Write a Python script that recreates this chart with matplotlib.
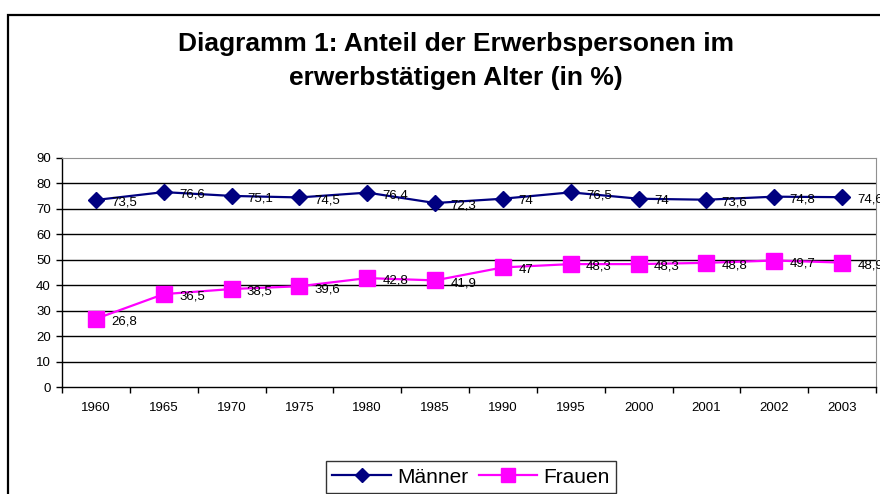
import matplotlib
matplotlib.use("Agg")
import matplotlib.pyplot as plt
from matplotlib.patches import Rectangle

plt.rcParams["font.family"] = ["Liberation Sans", "DejaVu Sans"]

years = ["1960", "1965", "1970", "1975", "1980", "1985", "1990",
         "1995", "2000", "2001", "2002", "2003"]
maenner = [73.5, 76.6, 75.1, 74.5, 76.4, 72.3, 74, 76.5, 74, 73.6, 74.8, 74.6]
frauen = [26.8, 36.5, 38.5, 39.6, 42.8, 41.9, 47, 48.3, 48.3, 48.8, 49.7, 48.9]


def fmt(v):
    # German decimal comma, integers without decimals
    if float(v).is_integer():
        return str(int(v))
    return f"{v:.1f}".replace(".", ",")


fig = plt.figure(figsize=(8.8, 4.94), dpi=100)
ax = fig.add_axes([62 / 880, 107 / 494, 814 / 880, 229 / 494])

x = list(range(len(years)))
ax.plot(x, maenner, color="#000080", lw=1.6, marker="D", ms=8,
        label="Männer", zorder=3)
ax.plot(x, frauen, color="#FF00FF", lw=1.6, marker="s", ms=11,
        label="Frauen", zorder=3)

for xi, v in zip(x, maenner):
    ax.annotate(fmt(v), (xi, v), xytext=(11, -2), textcoords="offset points",
                ha="left", va="center", fontsize=9.5, annotation_clip=False)
for xi, v in zip(x, frauen):
    ax.annotate(fmt(v), (xi, v), xytext=(11, -2), textcoords="offset points",
                ha="left", va="center", fontsize=9.5, annotation_clip=False)

ax.set_xlim(-0.5, len(years) - 0.5)
ax.set_ylim(0, 90)
ax.set_yticks(range(0, 100, 10))
ax.set_xticks(x)
ax.set_xticklabels(years)
ax.set_xticks([i - 0.5 for i in range(len(years) + 1)], minor=True)
ax.tick_params(axis="x", which="major", length=0, pad=11, labelsize=9.5)
ax.tick_params(axis="x", which="minor", length=4, width=1, direction="out")
ax.tick_params(axis="y", length=4, width=1, direction="out", labelsize=9.5, pad=4)

for yv in range(10, 90, 10):
    ax.axhline(yv, color="black", lw=1, zorder=1)
ax.spines["top"].set_color("#909090")
ax.spines["right"].set_color("#909090")
ax.spines["left"].set_linewidth(1)
ax.spines["bottom"].set_linewidth(1)

fig.text(456 / 880, 0.911, "Diagramm 1: Anteil der Erwerbspersonen im",
         ha="center", va="center", fontsize=19, fontweight="bold")
fig.text(456 / 880, 0.842, "erwerbstätigen Alter (in %)",
         ha="center", va="center", fontsize=19, fontweight="bold")

leg = fig.legend(loc="upper center", bbox_to_anchor=(471 / 880, 1 - 451 / 494),
                 bbox_transform=fig.transFigure, ncol=2, fontsize=15,
                 frameon=True, fancybox=False, edgecolor="black",
                 handlelength=2.8, columnspacing=0.5, handletextpad=0.3,
                 borderpad=0.3, markerscale=0.9)
leg.get_frame().set_linewidth(1)

fig.patches.append(Rectangle((8 / 880, -0.2), 1.5, 1.2 - 15 / 494, fill=False,
                             edgecolor="black", lw=1.6,
                             transform=fig.transFigure))

fig.savefig("out.png", dpi=100)
